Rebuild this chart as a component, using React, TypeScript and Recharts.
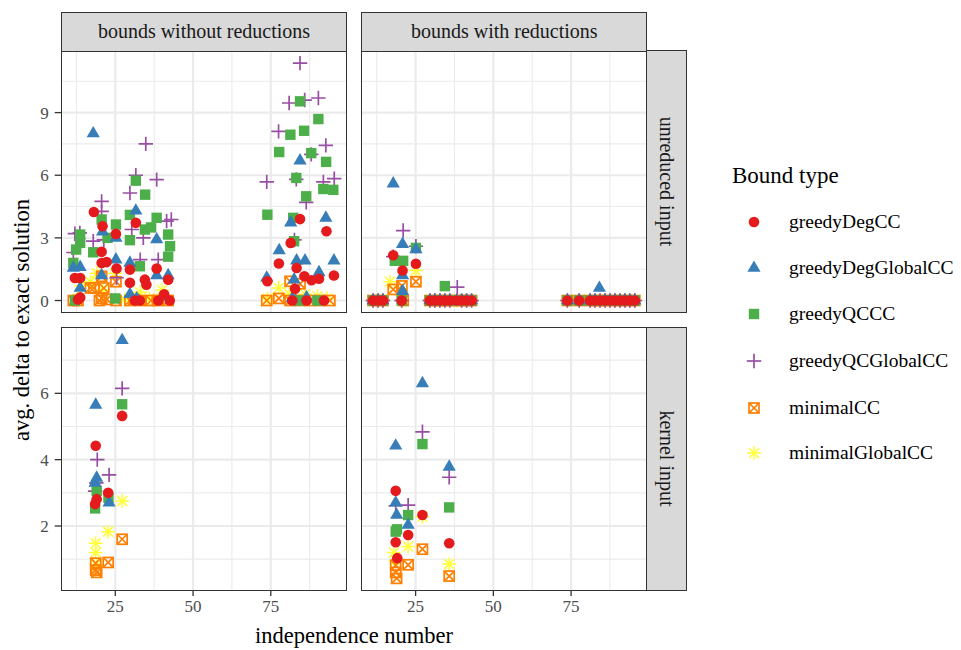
import React from 'react';
import { ReferenceLine, Scatter, ScatterChart, XAxis, YAxis } from 'recharts';

const FONT = '"Liberation Serif", "Times New Roman", serif';

const seriesNames = ['greedyDegCC', 'greedyDegGlobalCC', 'greedyQCCC', 'greedyQCGlobalCC', 'minimalCC', 'minimalGlobalCC'];
const seriesColors = ['#E41A1C', '#377EB8', '#4DAF4A', '#984EA3', '#FF7F00', '#FFFF33'];
const seriesShapes = ['circle', 'triangle', 'square', 'plus', 'boxcross', 'asterisk'];

const columnLabels = ['bounds without reductions', 'bounds with reductions'];
const rowLabels = ['unreduced input', 'kernel input'];

const xTicks = [25, 50, 75];
const xMinor = [12.5, 37.5, 62.5, 87.5];
const xDomain = [7.76, 99.28];

const yTicksUnreduced = [0, 3, 6, 9];
const yMinorUnreduced = [1.5, 4.5, 7.5, 10.5];
const yDomainUnreduced = [-0.55, 11.95];

const yTicksKernel = [2, 4, 6];
const yMinorKernel = [1, 3, 5, 7];
const yDomainKernel = [0.07, 7.97];

// bounds without reductions, unreduced input: [independence number, avg delta]
const plainFullDeg = [
  [18.1, 4.24], [31.6, 3.72], [20.9, 3.56], [25.2, 3.19], [20.6, 2.33], [20.6, 1.8], [22.2, 1.84], [25.4, 1.53],
  [29.7, 1.48], [29.7, 0.85], [34.5, 1.0], [35.0, 0.76], [38.3, 1.53], [42.0, 1.0], [12.0, 1.08], [13.7, 1.08],
  [13.7, 0.15], [13.0, 0.05], [31.3, 0], [32.9, 0], [38.8, 0], [40.7, 0.3], [42.5, 0],
  [84.4, 3.9], [92.9, 3.32], [81.4, 2.76], [77.6, 1.77], [83.3, 1.56], [95.3, 1.2], [85.8, 1.16], [88.1, 0.97],
  [90.5, 1.04], [73.9, 0.92], [82.8, 0.56], [81.9, 0], [86.5, 0], [92.1, 0],
];
const plainFullDegGlobal = [
  [17.9, 8.0], [31.6, 4.3], [20.9, 3.3], [25.2, 3.0], [38.3, 2.92], [25.2, 1.96], [29.7, 1.8], [38.3, 1.2],
  [42.0, 1.2], [11.5, 1.56], [13.7, 1.6], [13.7, 0.6], [20.6, 1.2], [31.9, 0.1], [40.7, 0.2], [29.7, 0.3],
  [84.4, 6.7], [81.4, 3.73], [92.7, 3.96], [77.7, 2.4], [83.3, 1.91], [86.0, 1.91], [95.3, 1.91], [73.7, 1.09],
  [82.5, 1.0], [90.5, 1.35], [86.5, 0.15], [81.9, 0.1],
];
const plainFullQc = [
  [31.6, 5.74], [34.6, 5.07], [20.6, 3.88], [25.2, 3.64], [29.7, 4.1], [38.3, 3.96], [34.5, 3.4], [42.0, 3.16],
  [42.6, 2.6], [42.0, 2.1], [29.7, 2.89], [13.7, 3.16], [13.7, 2.76], [17.9, 2.31], [12.4, 2.44], [11.5, 1.8],
  [32.9, 1.64], [22.5, 3.0], [36.5, 3.5], [12.0, 0], [25.0, 0.1],
  [84.4, 9.54], [90.3, 8.69], [81.3, 7.94], [85.7, 8.13], [77.7, 7.11], [88.0, 7.06], [92.8, 6.64], [83.2, 5.87],
  [91.9, 5.34], [95.1, 5.3], [86.4, 4.99], [73.9, 4.11], [82.2, 3.96], [82.5, 2.84], [84.0, 0], [90.0, 0],
];
const plainFullQcGlobal = [
  [34.8, 7.5], [38.3, 5.79], [31.6, 6.0], [29.7, 5.15], [20.6, 4.75], [20.6, 4.27], [41.5, 3.8], [43.0, 3.88],
  [13.6, 3.24], [12.0, 3.2], [17.9, 2.84], [34.0, 3.0], [30.3, 3.4], [33.0, 1.96], [38.8, 1.96], [25.4, 1.09],
  [11.5, 2.3], [21.3, 2.9],
  [84.4, 11.37], [80.9, 9.46], [85.9, 9.6], [90.3, 9.7], [77.5, 8.1], [92.7, 7.43], [88.0, 7.0], [73.7, 5.68],
  [83.2, 5.8], [91.9, 5.68], [95.4, 5.84], [86.4, 4.7], [82.6, 2.9], [83.0, 0.1],
];
const plainFullMin = [
  [11.5, 0], [13.0, 0], [20.6, 1.16], [21.3, 0.6], [18.1, 0.6], [20.6, 0.1], [22.3, 0.05], [25.2, 0], [29.7, 0],
  [25.2, 0.9], [33.0, 0], [36.5, 0], [38.5, 0], [42.0, 0], [17.0, 0.6], [19.9, 0], [31.0, 0.05],
  [81.2, 0.92], [84.4, 0.8], [73.7, 0], [77.6, 0.1], [81.2, 0], [84.4, 0], [87.5, 0], [90.8, 0], [94.0, 0],
];
const plainFullMinGlobal = [
  [14.0, 0.7], [19.0, 1.3], [25.0, 1.3], [21.0, 0.5], [33.0, 0.4], [40.0, 0.5], [13.0, 0.1], [28.0, 0.05],
  [36.0, 0.1], [17.0, 0.9],
  [77.5, 0.6], [81.0, 0.3], [86.0, 0.3], [90.0, 0.2], [93.0, 0.1], [74.0, 0.1],
];

// bounds with reductions, unreduced input
const reducedFullDeg = [
  [17.8, 2.17], [25.1, 1.76], [20.8, 1.44],
  [11.3, 0], [12.9, 0], [14.5, 0], [20.5, 0], [29.6, 0], [31.2, 0], [32.8, 0], [34.4, 0], [36.0, 0], [38.2, 0],
  [39.8, 0], [41.4, 0], [43.0, 0],
  [73.8, 0], [77.6, 0], [81.1, 0], [82.7, 0], [84.3, 0], [85.9, 0], [87.5, 0], [89.1, 0], [90.7, 0], [92.3, 0],
  [93.9, 0], [95.5, 0],
];
const reducedFullDegGlobal = [
  [17.8, 5.6], [20.8, 2.7], [25.1, 2.45], [20.8, 1.2], [20.8, 0.45], [84.1, 0.6],
  [11.3, 0], [12.9, 0], [14.5, 0], [29.6, 0], [31.2, 0], [32.8, 0], [34.4, 0], [36.0, 0], [38.2, 0], [39.8, 0],
  [41.4, 0], [43.0, 0],
  [73.8, 0], [77.6, 0], [81.1, 0], [82.7, 0], [85.9, 0], [87.5, 0], [89.1, 0], [90.7, 0], [92.3, 0], [93.9, 0],
  [95.5, 0],
];
const reducedFullQc = [
  [25.1, 2.52], [18.3, 1.9], [21.0, 1.9], [34.4, 0.69],
  [11.3, 0], [12.9, 0], [14.5, 0], [20.5, 0], [29.6, 0], [31.2, 0], [32.8, 0], [36.0, 0], [38.2, 0], [39.8, 0],
  [41.4, 0], [43.0, 0],
  [73.8, 0], [77.6, 0], [81.1, 0], [82.7, 0], [84.3, 0], [85.9, 0], [87.5, 0], [89.1, 0], [90.7, 0], [92.3, 0],
  [93.9, 0], [95.5, 0],
];
const reducedFullQcGlobal = [
  [21.0, 3.35], [17.8, 2.1], [25.1, 2.6], [38.4, 0.64],
  [11.3, 0], [12.9, 0], [14.5, 0], [20.5, 0], [29.6, 0], [31.2, 0], [32.8, 0], [34.4, 0], [36.0, 0], [39.8, 0],
  [41.4, 0], [43.0, 0],
  [73.8, 0], [77.6, 0], [81.1, 0], [82.7, 0], [84.3, 0], [85.9, 0], [87.5, 0], [89.1, 0], [90.7, 0], [92.3, 0],
  [93.9, 0], [95.5, 0],
];
const reducedFullMin = [
  [25.1, 0.9], [17.8, 0.53], [20.6, 0.7],
  [11.3, 0], [12.9, 0], [14.5, 0], [21.0, 0], [29.6, 0], [31.2, 0], [32.8, 0], [34.4, 0], [36.0, 0], [38.2, 0],
  [39.8, 0], [41.4, 0], [43.0, 0],
  [73.8, 0], [77.6, 0], [81.1, 0], [82.7, 0], [84.3, 0], [85.9, 0], [87.5, 0], [89.1, 0], [90.7, 0], [92.3, 0],
  [93.9, 0], [95.5, 0],
];
const reducedFullMinGlobal = [
  [16.8, 0.9], [25.1, 1.44], [20.5, 0.25],
  [11.3, 0], [12.9, 0], [14.5, 0], [21.0, 0], [29.6, 0], [31.2, 0], [32.8, 0], [34.4, 0], [36.0, 0], [38.2, 0],
  [39.8, 0], [41.4, 0], [43.0, 0],
  [73.8, 0], [77.6, 0], [81.1, 0], [82.7, 0], [84.3, 0], [85.9, 0], [87.5, 0], [89.1, 0], [90.7, 0], [92.3, 0],
  [93.9, 0], [95.5, 0],
];

// bounds without reductions, kernel input
const plainKernelDeg = [[27.2, 5.32], [18.7, 4.42], [22.7, 3.0], [19.0, 2.81], [18.5, 2.66]];
const plainKernelDegGlobal = [[27.2, 7.6], [18.7, 5.65], [19.0, 3.45], [23.0, 2.7], [18.5, 3.3]];
const plainKernelQc = [[27.2, 5.67], [19.0, 3.06], [18.5, 2.53], [22.8, 2.85]];
const plainKernelQcGlobal = [[27.2, 6.15], [19.2, 4.0], [23.0, 3.54], [18.9, 3.3], [18.5, 3.05]];
const plainKernelMin = [[27.2, 1.6], [22.7, 0.9], [18.7, 0.88], [18.7, 0.67], [19.0, 0.6]];
const plainKernelMinGlobal = [[27.2, 2.75], [22.7, 1.83], [18.7, 1.48], [18.7, 1.2], [19.0, 0.8]];

// bounds with reductions, kernel input
const reducedKernelDeg = [[18.6, 3.06], [27.2, 2.33], [22.6, 1.73], [18.6, 1.51], [35.8, 1.48], [19.1, 1.03]];
const reducedKernelDegGlobal = [[27.2, 6.3], [18.6, 4.42], [35.8, 3.78], [18.6, 2.7], [18.9, 2.33], [22.6, 2.03]];
const reducedKernelQc = [[27.2, 4.47], [35.8, 2.56], [22.6, 2.33], [18.6, 1.83], [19.0, 1.9]];
const reducedKernelQcGlobal = [[27.2, 4.84], [35.8, 3.47], [18.6, 2.61], [22.6, 2.63]];
const reducedKernelMin = [[27.2, 1.3], [22.6, 0.83], [18.6, 0.82], [18.6, 0.6], [18.9, 0.42], [35.8, 0.49]];
const reducedKernelMinGlobal = [[27.2, 2.28], [22.6, 1.38], [18.0, 1.2], [35.8, 0.85], [18.6, 0.95]];

type Pt = number[];

const toRows = (pts: Pt[]) => pts.map(([x, y]) => ({ x, y }));

const Marker = ({ kind, cx, cy, color }: { kind: string; cx: number; cy: number; color: string }) => {
  switch (kind) {
    case 'circle':
      return <circle cx={cx} cy={cy} r={5.3} fill={color} />;
    case 'triangle':
      return <polygon points={`${cx},${cy - 7.6} ${cx - 6.6},${cy + 3.8} ${cx + 6.6},${cy + 3.8}`} fill={color} />;
    case 'square':
      return <rect x={cx - 5.2} y={cy - 5.2} width={10.4} height={10.4} fill={color} />;
    case 'plus':
      return (
        <g stroke={color} strokeWidth={1.7}>
          <line x1={cx - 7.2} y1={cy} x2={cx + 7.2} y2={cy} />
          <line x1={cx} y1={cy - 7.2} x2={cx} y2={cy + 7.2} />
        </g>
      );
    case 'boxcross':
      return (
        <g stroke={color} strokeWidth={1.7} fill="none">
          <rect x={cx - 5} y={cy - 5} width={10} height={10} />
          <line x1={cx - 5} y1={cy - 5} x2={cx + 5} y2={cy + 5} />
          <line x1={cx - 5} y1={cy + 5} x2={cx + 5} y2={cy - 5} />
        </g>
      );
    default:
      return (
        <g stroke={color} strokeWidth={1.5}>
          <line x1={cx - 7} y1={cy} x2={cx + 7} y2={cy} />
          <line x1={cx} y1={cy - 7} x2={cx} y2={cy + 7} />
          <line x1={cx - 5} y1={cy - 5} x2={cx + 5} y2={cy + 5} />
          <line x1={cx - 5} y1={cy + 5} x2={cx + 5} y2={cy - 5} />
        </g>
      );
  }
};

type PanelDef = {
  series: Pt[][];
  left: number;
  top: number;
  width: number;
  height: number;
  yDomain: number[];
  yTicks: number[];
  yMinor: number[];
  showX: boolean;
  showY: boolean;
};

const PANEL_W = 284.6;
const PANEL_H_TOP = 261;
const PANEL_H_BOTTOM = 262;

const panels: PanelDef[] = [
  {
    series: [plainFullDeg, plainFullDegGlobal, plainFullQc, plainFullQcGlobal, plainFullMin, plainFullMinGlobal],
    left: 61.7, top: 51, width: PANEL_W, height: PANEL_H_TOP,
    yDomain: yDomainUnreduced, yTicks: yTicksUnreduced, yMinor: yMinorUnreduced, showX: false, showY: true,
  },
  {
    series: [reducedFullDeg, reducedFullDegGlobal, reducedFullQc, reducedFullQcGlobal, reducedFullMin, reducedFullMinGlobal],
    left: 362, top: 51, width: PANEL_W, height: PANEL_H_TOP,
    yDomain: yDomainUnreduced, yTicks: yTicksUnreduced, yMinor: yMinorUnreduced, showX: false, showY: false,
  },
  {
    series: [plainKernelDeg, plainKernelDegGlobal, plainKernelQc, plainKernelQcGlobal, plainKernelMin, plainKernelMinGlobal],
    left: 61.7, top: 328, width: PANEL_W, height: PANEL_H_BOTTOM,
    yDomain: yDomainKernel, yTicks: yTicksKernel, yMinor: yMinorKernel, showX: true, showY: true,
  },
  {
    series: [reducedKernelDeg, reducedKernelDegGlobal, reducedKernelQc, reducedKernelQcGlobal, reducedKernelMin, reducedKernelMinGlobal],
    left: 362, top: 328, width: PANEL_W, height: PANEL_H_BOTTOM,
    yDomain: yDomainKernel, yTicks: yTicksKernel, yMinor: yMinorKernel, showX: true, showY: false,
  },
];

const W = 961;
const H = 650;
const Y_AXIS_W = 40;
const X_AXIS_H = 30;
const GRID = '#EBEBEB';
const INK = '#333333';
const tickStyle = { fill: '#4D4D4D', fontSize: 17, fontFamily: FONT };

// draw order: yellow at the bottom, red on top
const drawOrder = [5, 4, 3, 2, 1, 0];

const Panel = ({ p }: { p: PanelDef }) => {
  const margin = {
    left: p.left - (p.showY ? Y_AXIS_W : 0),
    top: p.top,
    right: W - p.left - p.width,
    bottom: H - p.top - p.height - (p.showX ? X_AXIS_H : 0),
  };
  return (
    <div style={{ position: 'absolute', left: 0, top: 0 }}>
      <ScatterChart width={W} height={H} margin={margin}>
        <XAxis
          type="number"
          dataKey="x"
          domain={xDomain}
          ticks={xTicks}
          allowDataOverflow
          hide={!p.showX}
          height={X_AXIS_H}
          axisLine={false}
          tickLine={{ stroke: INK, strokeWidth: 1.3 }}
          tickSize={6}
          tickMargin={4}
          tick={tickStyle}
        />
        <YAxis
          type="number"
          dataKey="y"
          domain={p.yDomain}
          ticks={p.yTicks}
          allowDataOverflow
          hide={!p.showY}
          width={Y_AXIS_W}
          axisLine={false}
          tickLine={{ stroke: INK, strokeWidth: 1.3 }}
          tickSize={7}
          tickMargin={6}
          tick={tickStyle}
        />
        {xMinor.map((v) => <ReferenceLine key={`xm${v}`} x={v} stroke={GRID} strokeWidth={1.1} />)}
        {p.yMinor.map((v) => <ReferenceLine key={`ym${v}`} y={v} stroke={GRID} strokeWidth={1.1} />)}
        {xTicks.map((v) => <ReferenceLine key={`xM${v}`} x={v} stroke={GRID} strokeWidth={2.2} />)}
        {p.yTicks.map((v) => <ReferenceLine key={`yM${v}`} y={v} stroke={GRID} strokeWidth={2.2} />)}
        {drawOrder.map((i) => (
          <Scatter
            key={seriesNames[i]}
            name={seriesNames[i]}
            data={toRows(p.series[i])}
            isAnimationActive={false}
            shape={(props: any) => <Marker kind={seriesShapes[i]} cx={props.cx} cy={props.cy} color={seriesColors[i]} />}
          />
        ))}
      </ScatterChart>
      <div
        style={{
          position: 'absolute',
          left: p.left - 0.7,
          top: p.top - 0.7,
          width: p.width + 1.4,
          height: p.height + 1.4,
          border: `1.4px solid ${INK}`,
          boxSizing: 'border-box',
          pointerEvents: 'none',
        }}
      />
    </div>
  );
};

const stripBase: React.CSSProperties = {
  position: 'absolute',
  background: '#D9D9D9',
  border: `1.4px solid ${INK}`,
  boxSizing: 'border-box',
  display: 'flex',
  alignItems: 'center',
  justifyContent: 'center',
  color: '#1A1A1A',
  fontFamily: FONT,
  fontSize: 20,
  whiteSpace: 'nowrap',
};

const textBase: React.CSSProperties = {
  position: 'absolute',
  fontFamily: FONT,
  color: '#000',
  whiteSpace: 'nowrap',
};

const LegendKey = ({ i }: { i: number }) => (
  <svg width={24} height={24} style={{ position: 'absolute', left: 742, top: 0 }}>
    <Marker kind={seriesShapes[i]} cx={12} cy={12} color={seriesColors[i]} />
  </svg>
);

const legendRows = [222, 268, 314, 361, 408, 453];

export default function App() {
  return (
    <div style={{ position: 'absolute', left: 0, top: 0, width: W, height: H, background: '#fff', fontFamily: FONT }}>
      {panels.map((p, i) => <Panel key={i} p={p} />)}

      {columnLabels.map((label, i) => (
        <div key={label} style={{ ...stripBase, left: panels[i].left - 0.7, top: 11.7, width: PANEL_W + 1.4, height: 40 }}>
          {label}
        </div>
      ))}
      {rowLabels.map((label, i) => (
        <div
          key={label}
          style={{ ...stripBase, left: 646.3, top: panels[i * 2].top - 0.7, width: 40.4, height: panels[i * 2].height + 1.4 }}
        >
          <span style={{ transform: 'rotate(90deg)', fontFamily: FONT }}>{label}</span>
        </div>
      ))}

      <div style={{ ...textBase, left: 22, top: 320, transform: 'translate(-50%, -50%) rotate(-90deg)', fontSize: 22.5 }}>
        avg. delta to exact solution
      </div>
      <div style={{ ...textBase, left: 354, top: 636, transform: 'translate(-50%, -50%)', fontSize: 22.5 }}>
        independence number
      </div>

      <div style={{ ...textBase, left: 732, top: 163, fontSize: 23 }}>Bound type</div>
      {seriesNames.map((name, i) => (
        <div key={name} style={{ position: 'absolute', left: 0, top: legendRows[i] - 12, height: 24 }}>
          <LegendKey i={i} />
          <div style={{ ...textBase, left: 789, top: 0, lineHeight: '24px', fontSize: 19.5 }}>{name}</div>
        </div>
      ))}
    </div>
  );
}
